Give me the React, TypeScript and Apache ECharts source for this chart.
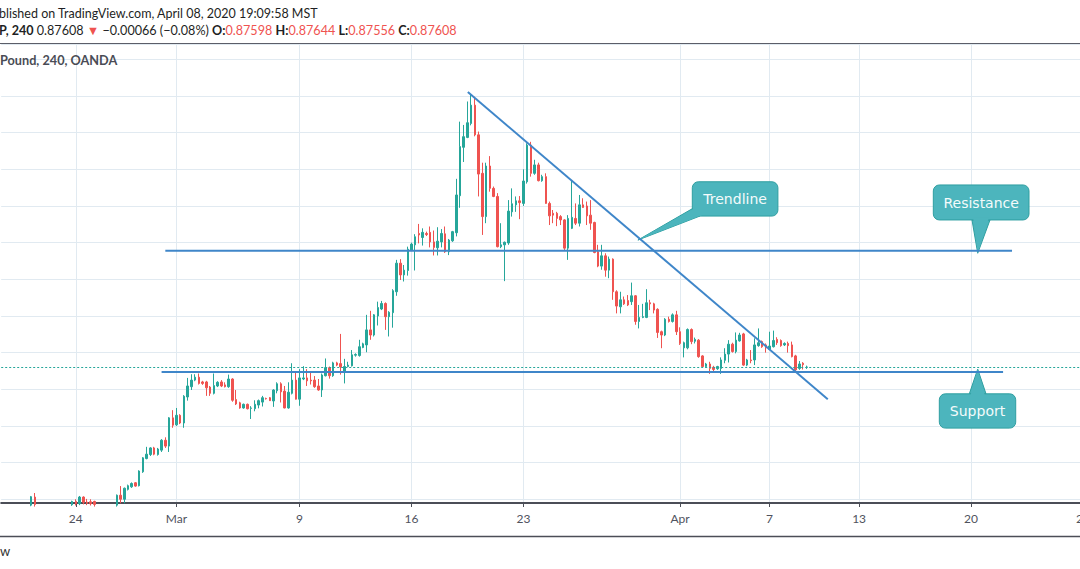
import React, { useEffect, useRef } from "react";
import * as echarts from "echarts";

// ---------- DATA (EUR/GBP 4h candles: [open, close, low, high]) ----------
const candlesFeb: number[][] = [
  [0.8352, 0.8345, 0.8338, 0.8358], [0.8345, 0.8349, 0.8341, 0.8354], [0.8349, 0.8358, 0.8346, 0.8362],
  [0.8358, 0.8352, 0.8348, 0.8363], [0.8352, 0.8361, 0.835, 0.8366], [0.8361, 0.8368, 0.8357, 0.8372],
  [0.8368, 0.8365, 0.836, 0.8374], [0.8365, 0.8384, 0.8362, 0.8387], [0.8384, 0.8407, 0.8381, 0.8409],
  [0.8406, 0.8386, 0.838, 0.8417], [0.8386, 0.8379, 0.8372, 0.8388], [0.8379, 0.8371, 0.8366, 0.8383],
  [0.8371, 0.8375, 0.8364, 0.838], [0.8375, 0.8368, 0.8362, 0.8379], [0.8368, 0.8372, 0.836, 0.8378],
  [0.8372, 0.8366, 0.8359, 0.8377], [0.8366, 0.8374, 0.8363, 0.8379], [0.8374, 0.8378, 0.8368, 0.8383],
  [0.8378, 0.8385, 0.8372, 0.8387], [0.8385, 0.8394, 0.8382, 0.8396], [0.8394, 0.8388, 0.8383, 0.84],
  [0.8388, 0.8406, 0.8384, 0.8409], [0.8406, 0.8392, 0.8386, 0.8408], [0.8392, 0.8389, 0.8384, 0.8401],
  [0.8393, 0.8388, 0.8383, 0.84], [0.8394, 0.8386, 0.838, 0.8396], [0.8386, 0.8378, 0.8372, 0.8388],
  [0.8378, 0.8372, 0.8366, 0.8382], [0.8372, 0.8376, 0.8367, 0.8381], [0.8376, 0.837, 0.8365, 0.8379],
  [0.837, 0.8384, 0.8368, 0.8386], [0.8384, 0.8411, 0.838, 0.8413], [0.8411, 0.84, 0.8389, 0.8436],
  [0.84, 0.843, 0.8389, 0.8432], [0.8427, 0.8437, 0.8424, 0.844], [0.8434, 0.8443, 0.8431, 0.8446],
  [0.8445, 0.8436, 0.8434, 0.8447], [0.8437, 0.8477, 0.8435, 0.8479], [0.8475, 0.8513, 0.8472, 0.8515],
  [0.8511, 0.8523, 0.8509, 0.8543], [0.8522, 0.854, 0.8518, 0.8542], [0.854, 0.8523, 0.852, 0.8543],
  [0.8522, 0.8537, 0.8519, 0.854], [0.8534, 0.8561, 0.8529, 0.8564], [0.8561, 0.8545, 0.854, 0.8569],
  [0.8545, 0.8622, 0.8529, 0.8624], [0.8622, 0.8602, 0.8595, 0.8643],
];
const candlesMarWeek1: number[][] = [
  [0.8603, 0.8629, 0.86, 0.8649], [0.8629, 0.8608, 0.8605, 0.8632], [0.8608, 0.8681, 0.8595, 0.8684],
  [0.8679, 0.8709, 0.8669, 0.8731], [0.8707, 0.8725, 0.8698, 0.8741], [0.8725, 0.8733, 0.8722, 0.8741],
  [0.8733, 0.8716, 0.8713, 0.8743], [0.872, 0.8716, 0.8712, 0.8723], [0.872, 0.8704, 0.8682, 0.8723],
  [0.8706, 0.8689, 0.8682, 0.8709], [0.8689, 0.871, 0.8686, 0.8743], [0.8709, 0.8719, 0.8706, 0.8722],
  [0.872, 0.8709, 0.8706, 0.8725], [0.8712, 0.8707, 0.8705, 0.8719], [0.8707, 0.8728, 0.8704, 0.874],
  [0.8728, 0.867, 0.8666, 0.873], [0.8672, 0.866, 0.8657, 0.8698], [0.8663, 0.8649, 0.8647, 0.8666],
  [0.8649, 0.8659, 0.8647, 0.8661], [0.8659, 0.8647, 0.8645, 0.8661], [0.8648, 0.8649, 0.8619, 0.8654],
  [0.8647, 0.8659, 0.864, 0.867], [0.8657, 0.8669, 0.8648, 0.8672], [0.8665, 0.8677, 0.8653, 0.8682],
  [0.8675, 0.8674, 0.8672, 0.8677], [0.8677, 0.8669, 0.8668, 0.8679], [0.8668, 0.8698, 0.8652, 0.87],
  [0.8696, 0.8715, 0.8689, 0.8719], [0.8715, 0.8693, 0.8664, 0.8719], [0.8695, 0.8649, 0.8648, 0.8709],
  [0.8649, 0.8692, 0.8647, 0.8719], [0.8689, 0.8725, 0.8686, 0.8771], [0.8725, 0.8673, 0.8672, 0.8747],
];
const candlesMarWeek2: number[][] = [
  [0.8673, 0.8731, 0.8655, 0.8755], [0.8728, 0.8731, 0.8725, 0.8763], [0.8731, 0.8723, 0.8709, 0.8755],
  [0.8725, 0.8723, 0.8713, 0.8747], [0.8725, 0.8707, 0.8704, 0.8736], [0.8709, 0.8698, 0.8696, 0.8728],
  [0.8698, 0.8739, 0.8679, 0.8743], [0.8737, 0.8759, 0.8735, 0.8784], [0.8759, 0.8737, 0.8729, 0.8762],
  [0.8737, 0.8772, 0.8734, 0.8775], [0.8772, 0.8766, 0.8763, 0.8775], [0.877, 0.8761, 0.874, 0.8851],
  [0.8749, 0.8762, 0.8716, 0.8783], [0.8762, 0.8766, 0.876, 0.8775], [0.8764, 0.8794, 0.8762, 0.8807],
  [0.8793, 0.8795, 0.8789, 0.8798], [0.8792, 0.8816, 0.8789, 0.8835], [0.8814, 0.8824, 0.8812, 0.8827],
  [0.8821, 0.8862, 0.8801, 0.8903], [0.8862, 0.8848, 0.8835, 0.8914], [0.8848, 0.8903, 0.8844, 0.8905],
  [0.89, 0.8923, 0.8874, 0.8939], [0.8919, 0.8934, 0.8916, 0.8941], [0.8934, 0.8898, 0.8862, 0.8937],
  [0.8898, 0.891, 0.8844, 0.8913], [0.8909, 0.8969, 0.8868, 0.8973], [0.8966, 0.9044, 0.8955, 0.9053],
  [0.9044, 0.9012, 0.8998, 0.9055], [0.9012, 0.9025, 0.8994, 0.9039], [0.9024, 0.9082, 0.901, 0.9089],
];
const candlesMarWeek3: number[][] = [
  [0.908, 0.9096, 0.9077, 0.91], [0.9094, 0.9116, 0.9024, 0.9123], [0.9125, 0.9121, 0.9098, 0.9151],
  [0.9114, 0.9128, 0.9092, 0.9139], [0.9125, 0.9122, 0.9118, 0.913], [0.9128, 0.9102, 0.9087, 0.9144],
  [0.9102, 0.9087, 0.9065, 0.9133], [0.9086, 0.9104, 0.9065, 0.9142], [0.9102, 0.9125, 0.9087, 0.9137],
  [0.9124, 0.9075, 0.9072, 0.9144], [0.9075, 0.9107, 0.9066, 0.911], [0.9105, 0.913, 0.9102, 0.9132],
  [0.9127, 0.923, 0.9117, 0.9274], [0.9228, 0.9362, 0.9195, 0.943], [0.936, 0.9389, 0.932, 0.9421],
  [0.9387, 0.9427, 0.9385, 0.9485], [0.9425, 0.9475, 0.942, 0.9503], [0.9475, 0.9394, 0.939, 0.9498],
  [0.9394, 0.9287, 0.9226, 0.9403], [0.9289, 0.9171, 0.9121, 0.9318], [0.9171, 0.9309, 0.9153, 0.9318],
  [0.9309, 0.9248, 0.9239, 0.9336], [0.9248, 0.9226, 0.9224, 0.9253], [0.9226, 0.9089, 0.9087, 0.9235],
  [0.9089, 0.9094, 0.9085, 0.9153], [0.9094, 0.9101, 0.8995, 0.9103], [0.9099, 0.9186, 0.9094, 0.9216],
  [0.9184, 0.9206, 0.9171, 0.9248], [0.9203, 0.9214, 0.9184, 0.9226], [0.9214, 0.9209, 0.9164, 0.9227],
];
const candlesMarWeek4: number[][] = [
  [0.9207, 0.9268, 0.92, 0.93], [0.9266, 0.9366, 0.9261, 0.9371], [0.9366, 0.9289, 0.928, 0.9375],
  [0.9289, 0.9312, 0.9285, 0.9326], [0.9312, 0.9269, 0.9267, 0.9318], [0.9269, 0.928, 0.9266, 0.9285],
  [0.928, 0.9207, 0.9206, 0.9289], [0.9207, 0.9173, 0.9148, 0.9212], [0.918, 0.9175, 0.9153, 0.9189],
  [0.918, 0.9166, 0.9145, 0.9184], [0.9171, 0.9162, 0.9148, 0.9175], [0.9162, 0.9085, 0.908, 0.9164],
  [0.9085, 0.9166, 0.9053, 0.9175], [0.9139, 0.9169, 0.9137, 0.9271], [0.9166, 0.9153, 0.9148, 0.9207],
  [0.9153, 0.9203, 0.9144, 0.923], [0.9203, 0.9196, 0.9195, 0.9221], [0.92, 0.9173, 0.9148, 0.9212],
  [0.9175, 0.9153, 0.9135, 0.9216], [0.9155, 0.9073, 0.9071, 0.9157], [0.9075, 0.9036, 0.9033, 0.9094],
  [0.9036, 0.9064, 0.9026, 0.9094], [0.9064, 0.9025, 0.9007, 0.9071], [0.9025, 0.9055, 0.9003, 0.9062],
  [0.9055, 0.8966, 0.8944, 0.9057], [0.8966, 0.8927, 0.8907, 0.897], [0.8925, 0.8944, 0.8907, 0.8966],
  [0.8944, 0.8933, 0.893, 0.8953], [0.8942, 0.893, 0.8927, 0.8957], [0.8939, 0.8955, 0.893, 0.8991],
  [0.8955, 0.8885, 0.8876, 0.8957], [0.8885, 0.8896, 0.8866, 0.893], [0.8896, 0.8898, 0.8894, 0.8933],
  [0.8896, 0.8936, 0.8894, 0.8973], [0.8936, 0.8933, 0.8916, 0.8944], [0.8933, 0.8916, 0.8907, 0.8936],
  [0.8918, 0.8855, 0.884, 0.8921], [0.8857, 0.8848, 0.8812, 0.886], [0.8848, 0.8891, 0.8845, 0.8894],
  [0.8891, 0.8885, 0.8882, 0.8898], [0.8885, 0.8903, 0.8882, 0.8907], [0.8903, 0.8857, 0.8848, 0.8914],
];
const candlesApr: number[][] = [
  [0.8857, 0.8825, 0.8821, 0.8869], [0.8813, 0.8827, 0.8787, 0.883], [0.8813, 0.8863, 0.8809, 0.8866],
  [0.8863, 0.883, 0.8823, 0.8866], [0.8831, 0.8836, 0.8825, 0.8841], [0.8834, 0.8789, 0.8786, 0.8837],
  [0.8791, 0.8762, 0.8759, 0.8793], [0.8762, 0.8769, 0.8759, 0.8772], [0.8769, 0.8757, 0.8742, 0.8775],
  [0.876, 0.8754, 0.8745, 0.8764], [0.8756, 0.8762, 0.8753, 0.8764], [0.8757, 0.878, 0.8742, 0.8787],
  [0.8779, 0.8796, 0.8771, 0.8812], [0.8796, 0.8823, 0.8773, 0.8834], [0.8823, 0.8803, 0.88, 0.8827],
  [0.8803, 0.8834, 0.8798, 0.8855], [0.8832, 0.8848, 0.883, 0.8854], [0.8851, 0.8766, 0.8764, 0.8854],
  [0.8766, 0.878, 0.8763, 0.8783], [0.878, 0.8778, 0.8771, 0.8807], [0.878, 0.8821, 0.8766, 0.8839],
  [0.8819, 0.8827, 0.8816, 0.8866], [0.883, 0.8816, 0.8813, 0.8833], [0.8821, 0.8813, 0.88, 0.8825],
  [0.8809, 0.8818, 0.8807, 0.8857], [0.8816, 0.8833, 0.8814, 0.886], [0.8836, 0.8827, 0.8821, 0.8842],
  [0.8833, 0.8819, 0.8816, 0.8836], [0.8821, 0.8825, 0.8818, 0.8828], [0.8825, 0.8819, 0.88, 0.883],
  [0.8821, 0.8789, 0.8787, 0.883], [0.8791, 0.8753, 0.8748, 0.8794], [0.8757, 0.8769, 0.8753, 0.8777],
  [0.8771, 0.8767, 0.8754, 0.8774], [0.87598, 0.87608, 0.87556, 0.87644],
];

const categoryCount = 296; // 4h slots incl. empty future slots
const tickIndices = [20, 47, 80, 110, 140, 182, 206, 230, 260, 290];
const tickLabels = ["24", "Mar", "9", "16", "23", "Apr", "7", "13", "20", "27"];

const priceMin = 0.83898;
const priceMax = 0.96418;
const lastClose = 0.87608;

const resistanceLevel = 0.9078;
const resistanceSpan = [44, 271];
const supportLevel = 0.8747;
const supportSpan = [43, 268.6];
const trendlinePoints = [[125.1, 0.9511], [221.6, 0.8673]];

const calloutTexts = ["Trendline", "Resistance", "Support"];
const calloutTips = [[170.7, 0.9107], [261.8, 0.9071], [261.8, 0.8755]];

// header texts (as visible in the cropped screenshot)
const headerLine1 = "blished on TradingView.com, April 08, 2020 19:09:58 MST";
const headerLine2 =
  "{b|P, 240} {n|0.87608} {r|▼} {n|−0.00066 (−0.08%)} {b|O:}{r|0.87598} {b|H:}{r|0.87644} {b|L:}{r|0.87556} {b|C:}{r|0.87608}";
const headerLine3 = "Pound, 240, OANDA";

// ---------- STYLE / LAYOUT ----------
const UP = "#26a69a";
const DOWN = "#ef5350";
const LINE_BLUE = "#3f86c9";
const GRID_COLOR = "#e1eaf1";
const CALLOUT_FILL = "#4cb5bd";
const CALLOUT_STROKE = "#2f9fa1";
const CALLOUT_GEOM = [
  { dx: 54.4, dy: -58.3, w: 85.6, h: 34.3, base: [[55, -31.7], [62, -24]] },
  { dx: -44.4, dy: -68.3, w: 95.7, h: 35, base: [[-5.7, -33.3], [12.3, -33.3]] },
  { dx: -38.4, dy: 24.7, w: 76.4, h: 34.3, base: [[-8.4, 24.7], [8.3, 24.7]] },
];

export default function App() {
  const ref = useRef<HTMLDivElement>(null);

  useEffect(() => {
    const el = ref.current;
    if (!el) return;
    const chart = echarts.init(el, null, { renderer: "svg" });
    const candles = [
      ...candlesFeb, ...candlesMarWeek1, ...candlesMarWeek2,
      ...candlesMarWeek3, ...candlesMarWeek4, ...candlesApr,
    ];
    const categories = Array.from({ length: categoryCount }, (_, i) => String(i));
    const tickSet = new Set(tickIndices);
    const isTick = (i: number) => tickSet.has(i);

    const hLine = (span: number[], level: number) => ({
      type: "line",
      xAxisIndex: 1,
      yAxisIndex: 0,
      data: [[span[0], level], [span[1], level]],
      symbol: "none",
      silent: true,
      z: 4,
      lineStyle: { color: LINE_BLUE, width: 2 },
    });

    chart.setOption({
      animation: false,
      backgroundColor: "#ffffff",
      grid: { left: 1.2, top: 44, width: 1100.35, height: 459, containLabel: false },
      xAxis: [
        {
          type: "category",
          data: categories,
          boundaryGap: false,
          axisLine: { show: true, lineStyle: { color: "#4b4e57", width: 2 } },
          axisTick: { show: true, interval: (i: number) => isTick(i), length: 4, lineStyle: { color: "#4b4e57", width: 1 } },
          axisLabel: {
            show: true,
            interval: (i: number) => isTick(i),
            formatter: (v: string) => {
              const k = tickIndices.indexOf(Number(v));
              return k >= 0 ? tickLabels[k] : "";
            },
            color: "#50535e",
            fontFamily: "Lato",
            fontSize: 12,
            margin: 9,
          },
          splitLine: { show: true, interval: (i: number) => isTick(i), lineStyle: { color: GRID_COLOR, width: 1 } },
        },
        { type: "value", min: 0, max: categoryCount - 1, show: false },
      ],
      yAxis: {
        type: "value",
        min: priceMin,
        max: priceMax,
        splitNumber: 12,
        position: "right",
        axisLine: { show: false },
        axisTick: { show: false },
        axisLabel: { show: false },
        splitLine: { show: true, lineStyle: { color: GRID_COLOR, width: 1 } },
      },
      series: [
        {
          type: "candlestick",
          data: candles,
          barWidth: 2,
          clip: true,
          z: 3,
          itemStyle: { color: UP, color0: DOWN, borderColor: UP, borderColor0: DOWN, borderWidth: 1 },
          markLine: {
            silent: true,
            precision: 5,
            symbol: ["none", "none"],
            label: { show: false },
            lineStyle: { color: UP, type: [2, 2], width: 1 },
            data: [{ yAxis: lastClose }],
          },
        },
        {
          type: "line",
          xAxisIndex: 1,
          yAxisIndex: 0,
          data: trendlinePoints,
          symbol: "none",
          silent: true,
          z: 4,
          lineStyle: { color: LINE_BLUE, width: 2 },
        },
        hLine(resistanceSpan, resistanceLevel),
        hLine(supportSpan, supportLevel),
      ],
    });

    // callouts anchored on data coordinates
    const callouts: any[] = [];
    calloutTips.forEach((tip, k) => {
      const p = chart.convertToPixel({ seriesIndex: 1 }, tip) as number[];
      const g = CALLOUT_GEOM[k];
      const tx = p[0], ty = p[1];
      const bx = tx + g.dx, by = ty + g.dy;
      const cx = bx + g.w / 2, cy = by + g.h / 2;
      const basePts = g.base.map(([a, b]) => [tx + a, ty + b]);
      const innerPts = basePts.map(([a, b]) => {
        const vx = cx - a, vy = cy - b;
        const len = Math.hypot(vx, vy) || 1;
        return [a + (vx / len) * 2.5, b + (vy / len) * 2.5];
      });
      callouts.push({
        type: "group",
        z: 20,
        children: [
          { type: "polygon", shape: { points: [[tx, ty], ...basePts] }, style: { fill: CALLOUT_FILL, stroke: CALLOUT_STROKE, lineWidth: 1 } },
          { type: "rect", shape: { x: bx, y: by, width: g.w, height: g.h, r: 6 }, style: { fill: CALLOUT_FILL, stroke: CALLOUT_STROKE, lineWidth: 1 } },
          { type: "polygon", shape: { points: [[tx + 0.01, ty + 0.01], ...innerPts] }, style: { fill: CALLOUT_FILL } },
          {
            type: "text",
            x: cx,
            y: cy + 0.5,
            style: { text: calloutTexts[k], fill: "#f4fbfb", font: "14px 'DejaVu Sans'", align: "center", verticalAlign: "middle" },
          },
        ],
      });
    });

    const headerFont = "Lato";
    const hs1 = 12.5;
    const hs2 = 12.6;
    chart.setOption({
      graphic: [
        {
          type: "text",
          x: -1,
          y: 13,
          z: 30,
          style: {
            text: headerLine1,
            fill: "#1e1f24",
            font: `${hs1}px ${headerFont}`,
            align: "left",
            verticalAlign: "middle",
          },
        },
        {
          type: "text",
          x: -1,
          y: 30,
          z: 30,
          style: {
            text: headerLine2,
            fill: "#1e1f24",
            font: `${hs2}px ${headerFont}`,
            align: "left",
            verticalAlign: "middle",
            rich: {
              b: { fill: "#1e1f24", fontWeight: "bold", fontSize: hs2, fontFamily: headerFont },
              n: { fill: "#1e1f24", fontSize: hs2, fontFamily: headerFont },
              r: { fill: DOWN, fontSize: hs2, fontFamily: headerFont },
            },
          },
        },
        { type: "line", z: 30, shape: { x1: 0, y1: 43.5, x2: 1110, y2: 43.5 }, style: { stroke: "#5b5e68", lineWidth: 1 } },
        {
          type: "text",
          x: 0,
          y: 60,
          z: 30,
          style: {
            text: headerLine3,
            fill: "#4a4c55",
            font: `bold 12.7px ${headerFont}`,
            align: "left",
            verticalAlign: "middle",
          },
        },
        { type: "line", z: 30, shape: { x1: 0, y1: 536.5, x2: 1110, y2: 536.5 }, style: { stroke: "#4b4e57", lineWidth: 1.5 } },
        {
          type: "text",
          x: 0,
          y: 551,
          z: 30,
          style: { text: "w", fill: "#333", font: `13px ${headerFont}`, align: "left", verticalAlign: "middle" },
        },
        ...callouts,
      ],
    });

    return () => chart.dispose();
  }, []);

  return (
    <div style={{ position: "absolute", left: 0, top: 0, width: 1080, height: 569, overflow: "hidden", background: "#fff" }}>
      <div ref={ref} style={{ width: 1110, height: 569 }} />
    </div>
  );
}
